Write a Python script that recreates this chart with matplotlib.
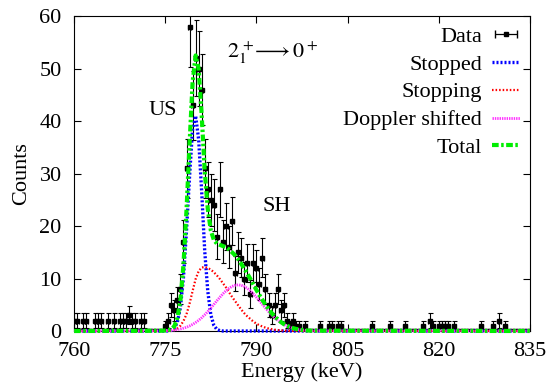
import numpy as np
import matplotlib
matplotlib.use('Agg')
import matplotlib.pyplot as plt

plt.rcParams['font.family'] = ['Liberation Serif', 'DejaVu Serif']
plt.rcParams['mathtext.fontset'] = 'stix'
plt.rcParams['font.size'] = 16

# measured spectrum, 0.5 keV bins from 760 to 835 keV
bin_width = 0.5
energy = np.arange(760.0, 835.01, bin_width)
counts = [
    2, 2, 0, 2, 2, 0, 0, 2, 2, 2,          # 760.0 - 764.5
    0, 2, 0, 2, 0, 2, 2, 2, 3, 2,          # 765.0 - 769.5
    2, 0, 2, 2, 0, 0, 0, 0, 0, 0,          # 770.0 - 774.5
    1, 2, 5, 4, 6, 8, 17, 31, 58, 43,      # 775.0 - 779.5
    52, 50, 46, 31, 27, 25, 24, 18, 27, 17,  # 780.0 - 784.5
    20, 16, 21, 11, 15, 14, 10, 13, 7, 13,   # 785.0 - 789.5
    12, 9, 14, 8, 5, 3, 5, 8, 4, 5,        # 790.0 - 794.5
    2, 1, 2, 1, 1, 0, 1, 0, 0, 0,          # 795.0 - 799.5
    0, 1, 0, 0, 1, 1, 0, 1, 1, 0,          # 800.0 - 804.5
    0, 0, 0, 0, 0, 0, 0, 0, 1, 0,          # 805.0 - 809.5
    0, 0, 0, 0, 1, 0, 0, 0, 0, 1,          # 810.0 - 814.5
    0, 0, 0, 0, 0, 1, 0, 2, 1, 0,          # 815.0 - 819.5
    1, 1, 1, 1, 0, 1, 0, 0, 0, 0,          # 820.0 - 824.5
    0, 0, 0, 0, 1, 0, 0, 0, 1, 0,          # 825.0 - 829.5
    2, 0, 1, 0, 0, 0, 0, 0, 0, 0,          # 830.0 - 834.5
    0,                                     # 835.0
]

# fit components read on a 0.5 keV grid from 774 to 799 keV (zero elsewhere)
fit_energy = np.arange(774.0, 799.01, 0.5)
stopped = [
    0, 0, 0, 0.02, 0.13, 0.5, 1.7, 4.5, 10.2, 19.1,
    29.4, 38.5, 41.0, 36.5, 26.5, 15.2, 7.6, 3.1, 1.1, 0.3,
    0.07, 0, 0, 0, 0, 0, 0, 0, 0, 0,
    0, 0, 0, 0, 0, 0, 0, 0, 0, 0,
    0, 0, 0, 0, 0, 0, 0, 0, 0, 0,
    0,
]
stopping = [
    0.01, 0.02, 0.03, 0.05, 0.09, 0.23, 0.5, 1.0, 1.9, 3.2,
    5.2, 7.6, 9.9, 11.4, 12.1, 12.2, 12.0, 11.7, 11.2, 10.6,
    9.9, 9.1, 8.3, 7.4, 6.5, 5.7, 4.9, 4.1, 3.4, 2.8,
    2.3, 1.8, 1.4, 1.1, 0.85, 0.64, 0.48, 0.35, 0.25, 0.18,
    0.13, 0.09, 0.06, 0.04, 0.03, 0.02, 0.01, 0.01, 0, 0,
    0,
]
doppler = [
    0.03, 0.04, 0.06, 0.09, 0.13, 0.19, 0.28, 0.39, 0.53, 0.72,
    0.96, 1.25, 1.61, 2.04, 2.53, 3.09, 3.70, 4.37, 5.06, 5.76,
    6.44, 7.09, 7.66, 8.14, 8.50, 8.72, 8.8, 8.72, 8.50, 8.14,
    7.66, 7.09, 6.44, 5.76, 5.06, 4.37, 3.70, 3.09, 2.53, 2.04,
    1.61, 1.25, 0.96, 0.72, 0.53, 0.39, 0.28, 0.19, 0.13, 0.09,
    0.06,
]


def pad(x, y):
    # extend the curves along the baseline to the full axis range
    return (np.concatenate([[760.0], x, [835.0]]),
            np.concatenate([[0.0], y, [0.0]]))


counts = np.array(counts, dtype=float)
total = np.array(stopped) + np.array(stopping) + np.array(doppler)

fig = plt.figure(figsize=(5.53, 3.84), dpi=100)
ax = fig.add_axes([0.134, 0.138, 0.824, 0.820])

ax.errorbar(energy, counts, yerr=np.sqrt(counts), xerr=0.25, fmt='s',
            color='black', ms=3, lw=0.8, capsize=1.8, capthick=0.8, zorder=2)

xs, ys = pad(fit_energy, stopped)
l1, = ax.plot(xs, ys, color='#0000ff', lw=2.4, ls=(0, (0.6, 0.6)),
              clip_on=False, zorder=3, label='Stopped')
xs, ys = pad(fit_energy, stopping)
l2, = ax.plot(xs, ys, color='#ff0000', lw=1.6, ls=(0, (0.7, 0.9)),
              clip_on=False, zorder=3, label='Stopping')
xs, ys = pad(fit_energy, doppler)
l3, = ax.plot(xs, ys, color='#ff33ff', lw=2.0, ls=(0, (0.5, 0.35)),
              clip_on=False, zorder=3, label='Doppler shifted')
xs, ys = pad(fit_energy, total)
l4, = ax.plot(xs, ys, color='#00ee00', lw=3.0, ls=(0, (1.6, 0.6, 0.6, 0.6)),
              clip_on=False, zorder=4, label='Total')

# legend entry for the data: point with horizontal bar
hd = ax.errorbar([np.nan], [np.nan], xerr=[1], fmt='s', color='black',
                 ms=3, lw=0.9, capsize=3, label='Data')

ax.legend(handles=[hd, l1, l2, l3, l4], loc='upper right', frameon=False,
          markerfirst=False, handlelength=1.25, handletextpad=0.45,
          labelspacing=0.33, borderaxespad=0.15, borderpad=0.3)

ax.text(774.6, 42.1, 'US', ha='center', va='center')
ax.text(793.3, 23.8, 'SH', ha='center', va='center')
ax.text(785.2, 53, r'$2_1^{\,+}\!\!\longrightarrow 0^+$', ha='left',
        va='center', fontsize=16)

ax.set_xlim(760, 835)
ax.set_ylim(0, 60)
ax.set_xticks([760, 775, 790, 805, 820, 835])
ax.set_yticks(range(0, 61, 10))
ax.tick_params(direction='in', top=True, right=True, length=5, width=0.8)
ax.tick_params(axis='x', pad=8)
ax.tick_params(axis='y', pad=9)
ax.set_xlabel('Energy (keV)', labelpad=1)
ax.set_ylabel('Counts', labelpad=6)

fig.savefig('out.png', dpi=100)
